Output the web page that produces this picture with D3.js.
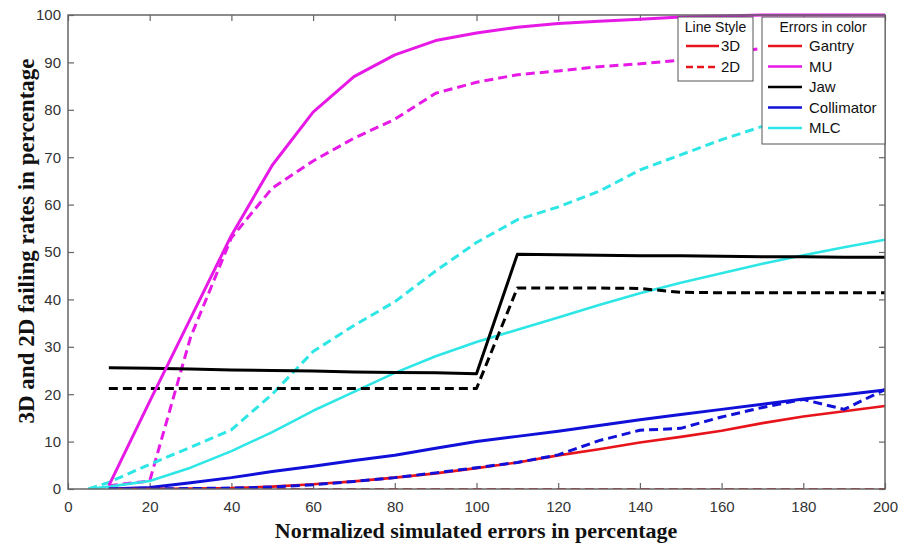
<!DOCTYPE html>
<html><head><meta charset="utf-8">
<script src="https://cdn.jsdelivr.net/npm/d3@7"></script>
<style>html,body{margin:0;padding:0;background:#fff;} svg{display:block;}</style>
</head><body>
<svg id="chart" width="898" height="545"></svg>
<script>
// ---- data ----
const errorLevels = [5,10,20,30,40,50,60,70,80,90,100,110,120,130,140,150,160,170,180,190,200];
const xTicks = [0,20,40,60,80,100,120,140,160,180,200];
const yTicks = [0,10,20,30,40,50,60,70,80,90,100];
const gantry3D = [null,0,0,0.1,0.2,0.5,1.0,1.6,2.4,3.3,4.4,5.6,7.1,8.4,9.8,11.0,12.3,13.9,15.3,16.4,17.5];
const gantry2D = [null,0,0,0,0,0,0,0,0,0,0,0,0,0,0,0,0,0,0,0,0];
const mu3D = [null,0.7,18.5,36,53.5,68.3,79.5,87,91.6,94.6,96.2,97.4,98.2,98.7,99.1,99.6,99.8,100,100,100,100];
const mu2D = [null,0.7,1.7,32,53,63.5,69.2,74,78,83.5,85.8,87.4,88.2,89.1,89.7,90.5,91.7,93,93.5,94,94.5];
const jaw3D = [null,25.6,25.5,25.3,25.1,25.0,24.9,24.7,24.6,24.5,24.3,49.5,49.4,49.3,49.2,49.2,49.1,49.0,49.0,48.9,48.9];
const jaw2D = [null,21.2,21.2,21.2,21.2,21.2,21.2,21.2,21.2,21.2,21.2,42.4,42.4,42.4,42.3,41.5,41.4,41.4,41.4,41.4,41.4];
const collimator3D = [null,0,0.3,1.3,2.4,3.7,4.8,6,7.1,8.6,10,11.1,12.2,13.4,14.6,15.7,16.8,17.9,19,19.9,20.9];
const collimator2D = [null,0,0,0.1,0.2,0.4,0.9,1.6,2.4,3.4,4.5,5.6,7.2,10.2,12.4,12.8,15.2,17.2,18.9,16.8,21];
const mlc3D = [0,0.5,1.7,4.5,8,12,16.5,20.5,24.5,28,31,33.6,36.2,38.8,41.3,43.5,45.5,47.5,49.3,51,52.6];
const mlc2D = [0,1.4,5.2,8.8,12.5,20,29,34.5,39.5,46,52,56.8,59.5,62.8,67.3,70.5,73.7,76.5,79,81,82.5];
const seriesNames = ["Gantry","MU","Jaw","Collimator","MLC"];
const seriesColors = ["#e8141c","#e619e6","#000000","#1010d8","#2ee6e6"];
const styleNames = ["3D","2D"];

const svg = d3.select("#chart");
const margin = {left:68, right:13, top:15, bottom:56};
const W = 898, H = 545;
const x = d3.scaleLinear().domain([0,200]).range([margin.left, W - margin.right]);
const y = d3.scaleLinear().domain([0,100]).range([H - margin.bottom, margin.top]);

svg.append("defs").append("clipPath").attr("id","clip").append("rect")
  .attr("x", x(0)).attr("y", y(100)-2).attr("width", x(200)-x(0)).attr("height", y(0)-y(100)+2);

const axisColor = "#666";
const gx = svg.append("g").attr("transform",`translate(0,${y(0)})`)
  .call(d3.axisBottom(x).tickValues(xTicks).tickSize(-6).tickPadding(12).tickFormat(d3.format("d")));
const gxTop = svg.append("g").attr("transform",`translate(0,${y(100)})`)
  .call(d3.axisTop(x).tickValues(xTicks).tickSize(-6).tickFormat(""));
const gy = svg.append("g").attr("transform",`translate(${x(0)},0)`)
  .call(d3.axisLeft(y).tickValues(yTicks).tickSize(-6).tickPadding(7).tickFormat(d3.format("d")));
const gyR = svg.append("g").attr("transform",`translate(${x(200)},0)`)
  .call(d3.axisRight(y).tickValues(yTicks).tickSize(-6).tickFormat(""));
[gx,gxTop,gy,gyR].forEach(g=>{
  g.select(".domain").remove();
  g.selectAll(".tick line").attr("stroke",axisColor).attr("stroke-width",1.2);
  g.selectAll(".tick text").attr("fill","#333").style("font-family","Liberation Sans, Arial, sans-serif").style("font-size","15px");
});
gx.selectAll(".tick text").attr("dy","0.71em");

const plot = svg.append("g").attr("clip-path","url(#clip)");
const line = d3.line()
  .defined(d => d[1] !== null)
  .x(d => x(d[0])).y(d => y(d[1]));
const series = [
  {vals: gantry2D, c:0, dash:true, w:2},
  {vals: mu2D, c:1, dash:true, w:3},
  {vals: mlc2D, c:4, dash:true, w:3},
  {vals: mlc3D, c:4, dash:false, w:2.6},
  {vals: jaw3D, c:2, dash:false, w:3},
  {vals: jaw2D, c:2, dash:true, w:3},
  {vals: mu3D, c:1, dash:false, w:3},
  {vals: collimator3D, c:3, dash:false, w:3},
  {vals: gantry3D, c:0, dash:false, w:2.6},
  {vals: collimator2D, c:3, dash:true, w:3}
];
series.forEach(s=>{
  const pts = errorLevels.map((e,i)=>[e, s.vals[i]]);
  plot.append("path").datum(pts)
    .attr("fill","none")
    .attr("stroke", seriesColors[s.c])
    .attr("stroke-width", s.w)
    .attr("stroke-linejoin","round")
    .attr("stroke-dasharray", s.dash ? "9,5" : null)
    .attr("d", line);
});

svg.append("rect").attr("x",x(0)).attr("y",y(100)).attr("width",x(200)-x(0)).attr("height",y(0)-y(100))
  .attr("fill","none").attr("stroke",axisColor).attr("stroke-width",1.5);

svg.append("text").attr("x",476).attr("y",538)
  .attr("text-anchor","middle")
  .style("font-family","Liberation Serif, Times New Roman, serif").style("font-weight","bold").style("font-size","22px")
  .attr("fill","#111")
  .text("Normalized simulated errors in percentage");
svg.append("text").attr("transform",`translate(34,241) rotate(-90)`)
  .attr("text-anchor","middle")
  .style("font-family","Liberation Serif, Times New Roman, serif").style("font-weight","bold").style("font-size","23px")
  .attr("fill","#111")
  .text("3D and 2D failing rates in percentage");

const lf = "Liberation Sans, Arial, sans-serif";
const leg1 = svg.append("g");
leg1.append("rect").attr("x",678).attr("y",17).attr("width",75).attr("height",64)
  .attr("fill","#fff").attr("stroke","#555").attr("stroke-width",1);
leg1.append("text").attr("x",715.5).attr("y",32).attr("text-anchor","middle")
  .style("font-family",lf).style("font-size","14px").attr("fill","#111").text("Line Style");
styleNames.forEach((n,i)=>{
  const yy = 46 + i*21;
  leg1.append("line").attr("x1",686).attr("x2",719).attr("y1",yy).attr("y2",yy)
    .attr("stroke",seriesColors[0]).attr("stroke-width",2.5).attr("stroke-dasharray", i===1 ? "7,4" : null);
  leg1.append("text").attr("x",721).attr("y",yy+5).style("font-family",lf).style("font-size","15px").attr("fill","#111").text(n);
});
const leg2 = svg.append("g");
leg2.append("rect").attr("x",762).attr("y",17).attr("width",123).attr("height",127)
  .attr("fill","#fff").attr("stroke","#555").attr("stroke-width",1);
leg2.append("text").attr("x",823).attr("y",32).attr("text-anchor","middle")
  .style("font-family",lf).style("font-size","14px").attr("fill","#111").text("Errors in color");
seriesNames.forEach((n,i)=>{
  const yy = 46 + i*20.5;
  leg2.append("line").attr("x1",768).attr("x2",802).attr("y1",yy).attr("y2",yy)
    .attr("stroke",seriesColors[i]).attr("stroke-width",2.5);
  leg2.append("text").attr("x",809).attr("y",yy+5).style("font-family",lf).style("font-size","15px").attr("fill","#111").text(n);
});
</script>
</body></html>
